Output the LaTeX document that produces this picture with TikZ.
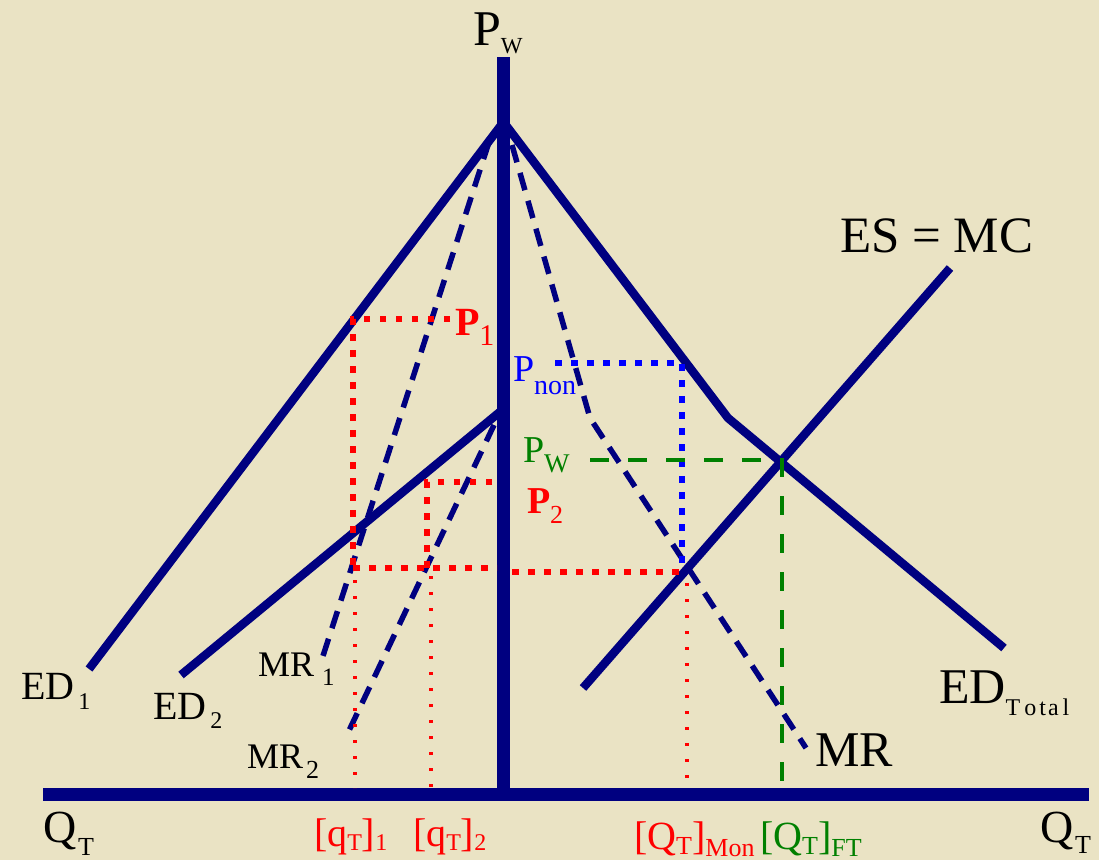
\documentclass[tikz,border=0pt]{standalone}
\usepackage{fontspec}
\setmainfont{Liberation Serif}
\usepackage{graphicx}
\usetikzlibrary{calc}
\definecolor{bg}{RGB}{234,227,196}
\definecolor{nv}{RGB}{0,0,128}
\definecolor{rd}{RGB}{255,0,0}
\definecolor{bl}{RGB}{0,0,255}
\definecolor{gr}{RGB}{0,128,0}
\newcommand\fsz[1]{\fontsize{#1}{#1}\selectfont}
\newcommand\sbt[3]{\raisebox{#1pt}{\fsz{#2}#3}}
\begin{document}
\begin{tikzpicture}[x=1pt,y=-1pt,
 axisline/.style={nv,line width=13pt},
 curve/.style={nv,line width=8.5pt,line join=round},
 mrline/.style={nv,line width=5.5pt,dash pattern=on 18pt off 11pt},
 reddot/.style={rd,line width=6.5pt,dash pattern=on 6.5pt off 9.5pt},
 bluedot/.style={bl,line width=6.5pt,dash pattern=on 6.5pt off 9.5pt},
 thindot/.style={rd,line width=3.3pt,dash pattern=on 3.3pt off 12.7pt},
 grdash/.style={gr,line width=4pt,dash pattern=on 19pt off 19pt},
 lbl/.style={anchor=base west,inner sep=0pt,outer sep=0pt},
]
\clip (0,0) rectangle (1099,860);
\fill[bg] (0,0) rectangle (1099,860);
% key points
\coordinate (ytop) at (503.5,57);
\coordinate (orig) at (503.5,794.5);
\coordinate (xl) at (43,794.5);
\coordinate (xr) at (1089,794.5);
\coordinate (apex) at (503.5,122);
\coordinate (ed1) at (89,669);
\coordinate (kink) at (728,418);
\coordinate (edt) at (1004,648);
\coordinate (ed2top) at (501,411);
\coordinate (ed2) at (181,675);
\coordinate (esl) at (583,688);
\coordinate (esu) at (950,268);
\coordinate (mr1t) at (489,142);
\coordinate (mr1b) at (322,659);
\coordinate (mr2t) at (494,425);
\coordinate (mr2b) at (345,739);
\coordinate (mrt) at (512,145);
\coordinate (mrk) at (590,418);
\coordinate (mrb) at (806,748);
\coordinate (eq) at (782,460);
% box corners
\coordinate (p1a) at (353,319);
\coordinate (p1b) at (450,319);
\coordinate (p1c) at (353,568);
\coordinate (p2a) at (427,482);
\coordinate (p2b) at (492,482);
\coordinate (p2c) at (427,568);
\coordinate (hm) at (497,568);
\coordinate (hr0) at (512,572);
\coordinate (hr) at (682,572);
\coordinate (pna) at (555,363);
\coordinate (pnb) at (682,363);
\coordinate (t1a) at (355,580);
\coordinate (t1b) at (355,788);
\coordinate (t2a) at (431,576);
\coordinate (t2b) at (431,788);
\coordinate (tma) at (687,583);
\coordinate (tmb) at (687,788);
\coordinate (gwa) at (590,460);
\coordinate (gfb) at ($(eq|-xl)+(0,-6)$);
% axes
\draw[axisline] (xl) -- (xr);
\draw[axisline] (ytop) -- (orig);
% demand / supply
\draw[curve] (ed1) -- (apex) -- (kink) -- (edt);
\draw[curve] (ed2) -- (ed2top);
\draw[curve] (esl) -- (esu);
% marginal revenue
\draw[mrline] (mr1t) -- (mr1b);
\draw[mrline] (mr2t) -- (mr2b);
\draw[mrline] (mrt) -- (mrk) -- (mrb);
% dotted guides
\draw[reddot] (p1b) -- (p1a) -- (p1c);
\draw[reddot] (p2b) -- (p2a) -- (p2c);
\draw[reddot] (p1c) -- (hm);
\draw[reddot] (hr0) -- (hr);
\draw[bluedot] (pna) -- (pnb) -- (hr);
\draw[thindot] (t1a) -- (t1b);
\draw[thindot] (t2a) -- (t2b);
\draw[thindot] (tma) -- (tmb);
\draw[grdash] (gwa) -- (eq) -- (gfb);
% labels
\node[lbl,font=\fsz{50}] (pw) at (473,45) {P\sbt{-8}{23}{W}};
\node[lbl,font=\fsz{51}] (es) at (840,252) {ES = MC};
\node[lbl,font={\fsz{40}\bfseries},text=rd] (p1) at (455,335) {P\sbt{-10}{30}{\mdseries 1}};
\node[lbl,font=\fsz{38},text=bl] (pnon) at (513,381) {P\sbt{-13}{28}{non}};
\node[lbl,font=\fsz{38},text=gr] (pwg) at (523,462) {P\sbt{-10}{27}{W}};
\node[lbl,font={\fsz{38}\bfseries},text=rd] (p2) at (527,513) {P\sbt{-10}{26}{\mdseries 2}};
\node[lbl,font=\fsz{40}] (ed1l) at (21,699) {ED\kern4pt\sbt{-10}{24}{1}};
\node[lbl,font=\fsz{40}] (ed2l) at (153,719) {ED\kern4pt\sbt{-9}{24}{2}};
\node[lbl,font=\fsz{36}] (mr1l) at (258,676) {MR\kern8pt\sbt{-9}{25}{1}};
\node[lbl,font=\fsz{36}] (mr2l) at (247,768) {MR\kern3pt\sbt{-10}{26}{2}};
\node[lbl,font=\fsz{50}] (mrl) at (815,766) {MR};
\node[lbl,font=\fsz{50}] (edtl) at (939,703) {ED\sbt{-12}{24}{T\kern4pt o\kern3pt t\kern2pt a\kern4pt l}};
\node[lbl,font=\fsz{46}] (qtl) at (43,842) {Q\kern2pt\sbt{-13}{26}{T}};
\node[lbl,font=\fsz{46}] (qtr) at (1040,842) {Q\kern2pt\sbt{-11}{26}{T}};
\node[lbl,font=\fsz{40},text=rd] (q1) at (314,846) {[q\sbt{-4}{24}{T}]\sbt{-4}{24}{1}};
\node[lbl,font=\fsz{40},text=rd] (q2) at (413,846) {[q\sbt{-4}{24}{T}]\sbt{-4}{24}{2}};
\node[lbl,font=\fsz{40},text=rd] (qmon) at (634,849) {[Q\sbt{-5}{26}{T}]\sbt{-7}{26}{Mon}};
\node[lbl,font=\fsz{40},text=gr] (qft) at (760,849) {[Q\sbt{-5}{26}{T}]\sbt{-7}{26}{FT}};
\end{tikzpicture}
\end{document}
